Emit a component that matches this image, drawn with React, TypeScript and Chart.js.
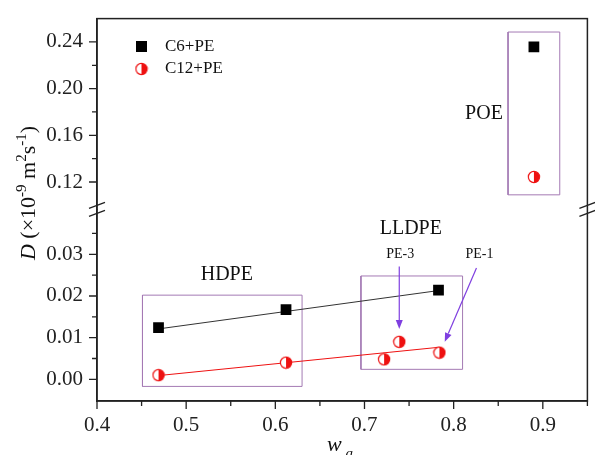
import React, { useEffect, useRef } from 'react';
import { Chart, registerables } from 'chart.js';
Chart.register(...registerables);

const SERIF = "'Liberation Serif', 'Times New Roman', Times, serif";
const RED = '#ee1111';
const BOX = '#a47ab4';
const ARROW = '#7f3fe0';
const AXIS = '#222222';

// ---- data ----
const seriesNames = ['C6+PE', 'C12+PE'];
const c6W = [0.469, 0.612, 0.783, 0.89];
const c6D = [0.0124, 0.0167, 0.0214, 0.2357];
const c12W = [0.469, 0.612, 0.722, 0.739, 0.784, 0.89];
const c12D = [0.001, 0.004, 0.0048, 0.009, 0.0064, 0.1243];
const c6FitW = [0.469, 0.783];
const c6FitD = [0.0121, 0.0213];
const c12FitW = [0.469, 0.784];
const c12FitD = [0.0009, 0.0077];

const groupNames = ['HDPE', 'LLDPE', 'POE'];
const groupW1 = [0.451, 0.696, 0.861];
const groupW2 = [0.63, 0.81, 0.919];
const groupD1 = [-0.0017, 0.0024, 0.109];
const groupD2 = [0.0202, 0.0248, 0.2485];
const groupLabelW = [0.5456, 0.752, 0.834];
const groupLabelD = [0.0252, 0.0362, 0.1787];

const sampleNames = ['PE-3', 'PE-1'];
const sampleLabelW = [0.74, 0.829];
const sampleLabelD = [0.03, 0.03];
const arrowFromW = [0.739, 0.8256];
const arrowFromD = [0.0271, 0.0267];
const arrowToW = [0.739, 0.79];
const arrowToD = [0.0121, 0.009];

const xTicks = [0.4, 0.45, 0.5, 0.55, 0.6, 0.65, 0.7, 0.75, 0.8, 0.85, 0.9, 0.95];
const xMajor = [0.4, 0.5, 0.6, 0.7, 0.8, 0.9];
const lowerTicks = [0, 0.005, 0.01, 0.015, 0.02, 0.025, 0.03, 0.035];
const lowerMajor = [0, 0.01, 0.02, 0.03];
const upperTicks = [0.12, 0.14, 0.16, 0.18, 0.2, 0.22, 0.24];
const upperMajor = [0.12, 0.16, 0.2, 0.24];
const xRange = [0.4, 0.95];
const lowerRange = [-0.0052, 0.0408];
const upperRange = [0.0966, 0.26];
const BREAK = 0.06;

const isIn = (list: number[], v: number) => list.some((m) => Math.abs(m - v) < 1e-9);
const axisFor = (d: number) => (d >= BREAK ? 'y2' : 'y');
const pts = (ws: number[], ds: number[], upper: boolean) =>
  ws.map((w, i) => ({ x: w, y: ds[i] })).filter((p) => (p.y >= BREAK) === upper);

function makeHalfCircle(): HTMLCanvasElement {
  const c = document.createElement('canvas');
  c.width = 14;
  c.height = 14;
  const g = c.getContext('2d')!;
  const cx = 7, cy = 7, r = 5.6;
  g.fillStyle = '#fff';
  g.beginPath(); g.arc(cx, cy, r, 0, Math.PI * 2); g.fill();
  g.fillStyle = RED;
  g.beginPath(); g.moveTo(cx, cy - r); g.arc(cx, cy, r, -Math.PI / 2, Math.PI / 2); g.closePath(); g.fill();
  g.strokeStyle = RED; g.lineWidth = 1.2;
  g.beginPath(); g.arc(cx, cy, r, 0, Math.PI * 2); g.stroke();
  return c;
}

function drawRich(ctx: CanvasRenderingContext2D, segs: { t: string; f: string; dy?: number }[], x: number, y: number, center: boolean) {
  let total = 0;
  for (const s of segs) { ctx.font = s.f; total += ctx.measureText(s.t).width; }
  let cx = center ? x - total / 2 : x;
  ctx.textAlign = 'left';
  ctx.textBaseline = 'alphabetic';
  for (const s of segs) {
    ctx.font = s.f;
    ctx.fillText(s.t, cx, y + (s.dy || 0));
    cx += ctx.measureText(s.t).width;
  }
}

export default function App() {
  const ref = useRef<HTMLCanvasElement>(null);
  useEffect(() => {
    if (!ref.current) return;
    const half = makeHalfCircle();
    const sq = { pointStyle: 'rect', pointRadius: 7.6, backgroundColor: '#000', borderColor: '#000', borderWidth: 0 };
    const ci = { pointStyle: half, pointRadius: 6, backgroundColor: RED, borderColor: RED };
    const datasets: any[] = [
      { label: seriesNames[0], data: pts(c6W, c6D, false), yAxisID: 'y', order: 0, ...sq },
      { label: seriesNames[0], data: pts(c6W, c6D, true), yAxisID: 'y2', order: 0, ...sq },
      { label: seriesNames[1], data: pts(c12W, c12D, false), yAxisID: 'y', order: 0, ...ci },
      { label: seriesNames[1], data: pts(c12W, c12D, true), yAxisID: 'y2', order: 0, ...ci },
      { label: 'fit1', data: c6FitW.map((w, i) => ({ x: w, y: c6FitD[i] })), yAxisID: 'y', showLine: true, pointRadius: 0, borderColor: '#333', borderWidth: 1, order: 1 },
      { label: 'fit2', data: c12FitW.map((w, i) => ({ x: w, y: c12FitD[i] })), yAxisID: 'y', showLine: true, pointRadius: 0, borderColor: RED, borderWidth: 1, order: 1 },
    ];
    groupNames.forEach((n, i) => {
      datasets.push({
        label: n,
        data: [
          { x: groupW1[i], y: groupD1[i] }, { x: groupW2[i], y: groupD1[i] },
          { x: groupW2[i], y: groupD2[i] }, { x: groupW1[i], y: groupD2[i] }, { x: groupW1[i], y: groupD1[i] },
        ],
        yAxisID: axisFor(groupD2[i]),
        showLine: true, pointRadius: 0, borderColor: BOX, borderWidth: 1, order: 2,
      });
    });

    const tickFont = { family: SERIF, size: 21 };
    const makeY = (range: number[], ticks: number[], major: number[], weight: number) => ({
      type: 'linear', position: 'left', stack: 'ys', stackWeight: weight,
      min: range[0], max: range[1],
      afterBuildTicks: (s: any) => { s.min = range[0]; s.max = range[1]; s.ticks = ticks.map((v) => ({ value: v })); },
      afterFit: (s: any) => { s.width = 97; },
      grid: { display: true, drawOnChartArea: false, drawTicks: true, tickLength: 8, color: 'rgba(0,0,0,0)' },
      border: { display: true, color: AXIS, width: 1.5 },
      ticks: { autoSkip: false, padding: 6, color: AXIS, font: tickFont,
        callback: (v: number) => (isIn(major, v) ? v.toFixed(2) : '') },
    });

    const plugin = {
      id: 'deco',
      afterDraw(chart: any) {
        const { ctx, chartArea: a, scales } = chart;
        const sx = scales.x, sy = scales.y, sy2 = scales.y2;
        ctx.save();
        // frame
        ctx.strokeStyle = AXIS; ctx.lineWidth = 1.5;
        ctx.strokeRect(a.left, a.top, a.right - a.left, a.bottom - a.top);
        // ticks
        ctx.lineWidth = 1.3;
        ctx.beginPath();
        for (const t of sx.ticks) {
          const p = sx.getPixelForValue(t.value);
          const len = isIn(xMajor, t.value) ? 8 : 5;
          ctx.moveTo(p, a.bottom); ctx.lineTo(p, a.bottom + len);
        }
        for (const [s, maj] of [[sy, lowerMajor], [sy2, upperMajor]] as any) {
          for (const t of s.ticks) {
            const p = s.getPixelForValue(t.value);
            const len = isIn(maj, t.value) ? 8 : 5;
            ctx.moveTo(a.left - len, p); ctx.lineTo(a.left, p);
          }
        }
        ctx.stroke();
        // break marks
        const yb = sy2.bottom;
        ctx.beginPath();
        for (const x0 of [a.left, a.right]) {
          for (const d of [-4, 4]) {
            ctx.moveTo(x0 - 8, yb + d + 3); ctx.lineTo(x0 + 8, yb + d - 3);
          }
        }
        ctx.stroke();
        // legend
        ctx.fillStyle = '#000';
        ctx.fillRect(136, 41, 11, 11);
        ctx.drawImage(half, 141.5 - 7, 69 - 7);
        ctx.font = `17px ${SERIF}`;
        ctx.textAlign = 'left'; ctx.textBaseline = 'middle';
        ctx.fillStyle = '#111';
        ctx.fillText(seriesNames[0], 165, 47);
        ctx.fillText(seriesNames[1], 165, 69);
        // group labels
        ctx.font = `20px ${SERIF}`;
        ctx.textAlign = 'center';
        groupNames.forEach((n, i) => {
          const s = scales[axisFor(groupLabelD[i])];
          ctx.fillText(n, sx.getPixelForValue(groupLabelW[i]), s.getPixelForValue(groupLabelD[i]));
        });
        ctx.font = `14px ${SERIF}`;
        sampleNames.forEach((n, i) => {
          ctx.fillText(n, sx.getPixelForValue(sampleLabelW[i]), sy.getPixelForValue(sampleLabelD[i]));
        });
        // arrows
        ctx.strokeStyle = ARROW; ctx.fillStyle = ARROW; ctx.lineWidth = 1.2;
        sampleNames.forEach((_, i) => {
          const x1 = sx.getPixelForValue(arrowFromW[i]), y1 = sy.getPixelForValue(arrowFromD[i]);
          const x2 = sx.getPixelForValue(arrowToW[i]), y2 = sy.getPixelForValue(arrowToD[i]);
          const ang = Math.atan2(y2 - y1, x2 - x1);
          const L = 9, W = 3.5;
          const bx = x2 - L * Math.cos(ang), by = y2 - L * Math.sin(ang);
          ctx.beginPath(); ctx.moveTo(x1, y1); ctx.lineTo(bx, by); ctx.stroke();
          ctx.beginPath();
          ctx.moveTo(x2, y2);
          ctx.lineTo(bx + W * Math.sin(ang), by - W * Math.cos(ang));
          ctx.lineTo(bx - W * Math.sin(ang), by + W * Math.cos(ang));
          ctx.closePath(); ctx.fill();
        });
        // axis titles
        ctx.fillStyle = '#111';
        ctx.save();
        ctx.translate(35, 193);
        ctx.rotate(-Math.PI / 2);
        const base = `22px ${SERIF}`, small = `15px ${SERIF}`;
        drawRich(ctx, [
          { t: 'D', f: `italic 22px ${SERIF}` },
          { t: ' (×10', f: base },
          { t: '-9', f: small, dy: -9 },
          { t: ' m', f: base },
          { t: '2', f: small, dy: -9 },
          { t: 's', f: base },
          { t: '-1', f: small, dy: -9 },
          { t: ')', f: base },
        ], 0, 0, true);
        ctx.restore();
        drawRich(ctx, [
          { t: 'w', f: `italic 22px ${SERIF}` },
          { t: ' a', f: `italic 15px ${SERIF}`, dy: 7 },
        ], 327, 451, false);
        ctx.restore();
      },
    };

    const chart = new Chart(ref.current, {
      type: 'scatter',
      data: { datasets },
      options: {
        animation: false,
        responsive: true,
        maintainAspectRatio: false,
        events: [],
        layout: { padding: { top: 15, right: 4, left: 0, bottom: 0 } },
        plugins: { legend: { display: false }, tooltip: { enabled: false }, title: { display: false } },
        scales: {
          x: {
            type: 'linear', position: 'bottom', min: xRange[0], max: xRange[1],
            afterBuildTicks: (s: any) => { s.min = xRange[0]; s.max = xRange[1]; s.ticks = xTicks.map((v) => ({ value: v })); },
            afterFit: (s: any) => { s.height = 54; },
            grid: { display: true, drawOnChartArea: false, drawTicks: true, tickLength: 8, color: 'rgba(0,0,0,0)' },
            border: { display: true, color: AXIS, width: 1.5 },
            ticks: { autoSkip: false, maxRotation: 0, padding: 4, color: AXIS, font: tickFont,
              callback: (v: number) => (isIn(xMajor, v) ? String(Math.round(v * 10) / 10) : '') },
          },
          y: makeY(lowerRange, lowerTicks, lowerMajor, 193.5),
          y2: makeY(upperRange, upperTicks, upperMajor, 192.5),
        } as any,
      },
      plugins: [plugin],
    } as any);
    return () => chart.destroy();
  }, []);
  return (
    <div style={{ position: 'absolute', left: 0, top: 0, width: 595, height: 455, background: '#fff' }}>
      <canvas ref={ref} />
    </div>
  );
}
